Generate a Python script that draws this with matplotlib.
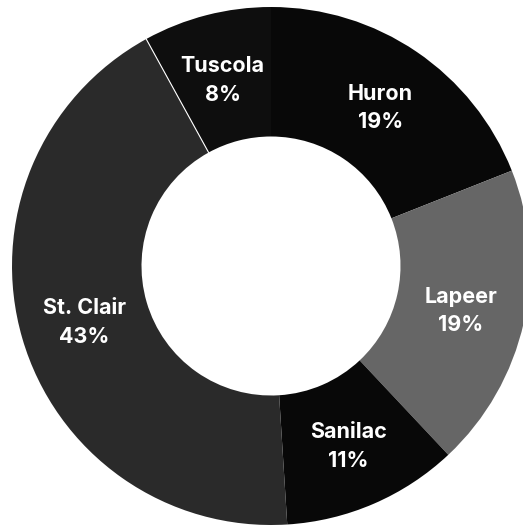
import numpy as np
import matplotlib.pyplot as plt

# county shares, clockwise from 12 o'clock
counties = ["Huron", "Lapeer", "Sanilac", "St. Clair", "Tuscola"]
shares = [19, 19, 11, 43, 8]
colors = ["#080808", "#666666", "#080808", "#2a2a2a", "#0e0e0e"]

W, H = 523, 529
cx, cy, R = 271, 266, 259   # donut centre and outer radius in pixels

fig = plt.figure(figsize=(W / 100, H / 100), dpi=100)
ax = fig.add_axes([(cx - R) / W, (H - cy - R) / H, 2 * R / W, 2 * R / H])

wedges, _ = ax.pie(shares, colors=colors, startangle=90, counterclock=False,
                   radius=1, wedgeprops=dict(width=0.5, linewidth=0))

# thin white seam between St. Clair and Tuscola, as in the scan
a = np.deg2rad(wedges[4].theta2)
ax.plot([0.5 * np.cos(a), np.cos(a)], [0.5 * np.sin(a), np.sin(a)],
        color="white", lw=0.8)

for wd, name, s in zip(wedges, counties, shares):
    mid = np.deg2rad((wd.theta1 + wd.theta2) / 2)
    ax.text(0.75 * np.cos(mid), 0.75 * np.sin(mid) - 0.01, f"{name}\n{s}%",
            ha="center", va="center", color="white", fontsize=15.5,
            fontweight="bold", family="Inter", linespacing=1.55)

ax.set_xlim(-1, 1)
ax.set_ylim(-1, 1)
ax.set_aspect("equal")
ax.axis("off")

fig.savefig("out.png", dpi=100, facecolor="white")
